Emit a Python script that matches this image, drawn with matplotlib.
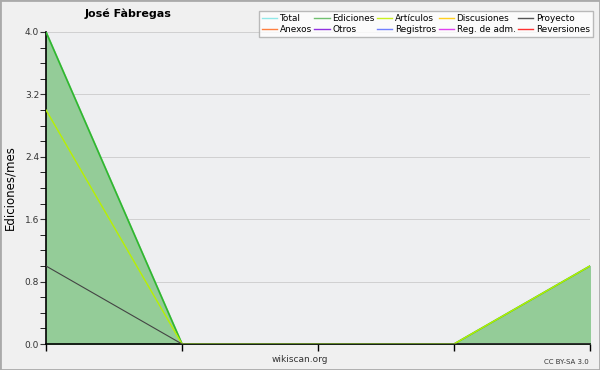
import matplotlib
matplotlib.use('Agg')
from matplotlib import pyplot as plt
from matplotlib.lines import Line2D
from matplotlib.ticker import MultipleLocator, FormatStrFormatter

# datos
meses = [0, 1, 2, 3, 4]
ediciones = [4, 0, 0, 0, 1]
articulos = [3, 0, 0, 0, 1]
proyecto = [1, 0, 0, 0, 0]

series_nombres = ['Total', 'Ediciones', 'Artículos', 'Discusiones', 'Proyecto',
                  'Anexos', 'Otros', 'Registros', 'Reg. de adm.', 'Reversiones']
series_colores = ['#90e8e8', '#70c070', '#c8f020', '#ffd020', '#555555',
                  '#ff8040', '#9030e0', '#7080ff', '#e040f0', '#ff3030']

fig = plt.figure(figsize=(6, 3.7), dpi=100, facecolor='#f0f0f0')
ax = fig.add_axes([46 / 600, 26 / 370, 544 / 600, 312 / 370])
ax.set_facecolor('#eeeff1')

ax.fill_between(meses, ediciones, color='#94cc98', zorder=2)
ax.plot(meses, ediciones, color='#2fb82f', lw=1.2, zorder=3)
ax.plot(meses, articulos, color='#b8f000', lw=1.0, zorder=4)
ax.plot(meses, proyecto, color='#444444', lw=0.8, zorder=4)

ax.set_xlim(0, 4)
ax.set_ylim(0, 4)
ax.set_xticks(meses)
ax.set_xticklabels([])
ax.yaxis.set_major_locator(MultipleLocator(0.8))
ax.yaxis.set_minor_locator(MultipleLocator(0.2))
ax.yaxis.set_major_formatter(FormatStrFormatter('%.1f'))
ax.tick_params(axis='y', which='major', labelsize=6.5, length=4, pad=1, colors='#333333')
ax.tick_params(axis='y', which='minor', length=4)
ax.tick_params(axis='x', length=5, width=1)
ax.grid(axis='y', color='#d0d0d0', lw=0.7, zorder=1)
ax.set_axisbelow(True)
for s in ['top', 'right']:
    ax.spines[s].set_visible(False)
ax.spines['left'].set_linewidth(1.2)
ax.spines['bottom'].set_linewidth(1.2)
ax.set_ylabel('Ediciones/mes', fontsize=8.5, labelpad=6)

# leyenda (orden por filas)
handles = [Line2D([], [], color=c, lw=1) for c in series_colores]
orden = [0, 5, 1, 6, 2, 7, 3, 8, 4, 9]
leg = fig.legend([handles[i] for i in orden], [series_nombres[i] for i in orden],
                 ncol=5, loc='upper right', bbox_to_anchor=(593 / 600, 1 - 11 / 370),
                 fontsize=6.4, frameon=True, fancybox=False, handlelength=1.7,
                 handletextpad=0.3, columnspacing=0.3, labelspacing=0.25,
                 borderpad=0.35, borderaxespad=0)
leg.get_frame().set_edgecolor('#aaaaaa')
leg.get_frame().set_facecolor('white')

fig.text(128 / 600, 1 - 14 / 370, 'José Fàbregas', fontsize=8, fontweight='bold',
         ha='center', va='center')
fig.text(300 / 600, 1 - 359 / 370, 'wikiscan.org', fontsize=6.5, ha='center',
         va='center', color='#333333')
fig.text(589 / 600, 1 - 362 / 370, 'CC BY-SA 3.0', fontsize=5, ha='right',
         va='center', color='#333333')

# borde
fig.patches.append(plt.Rectangle((0, 0), 1, 1, transform=fig.transFigure,
                                 fill=False, edgecolor='#aaaaaa', lw=2))

fig.savefig('out.png', dpi=100, facecolor=fig.get_facecolor())
